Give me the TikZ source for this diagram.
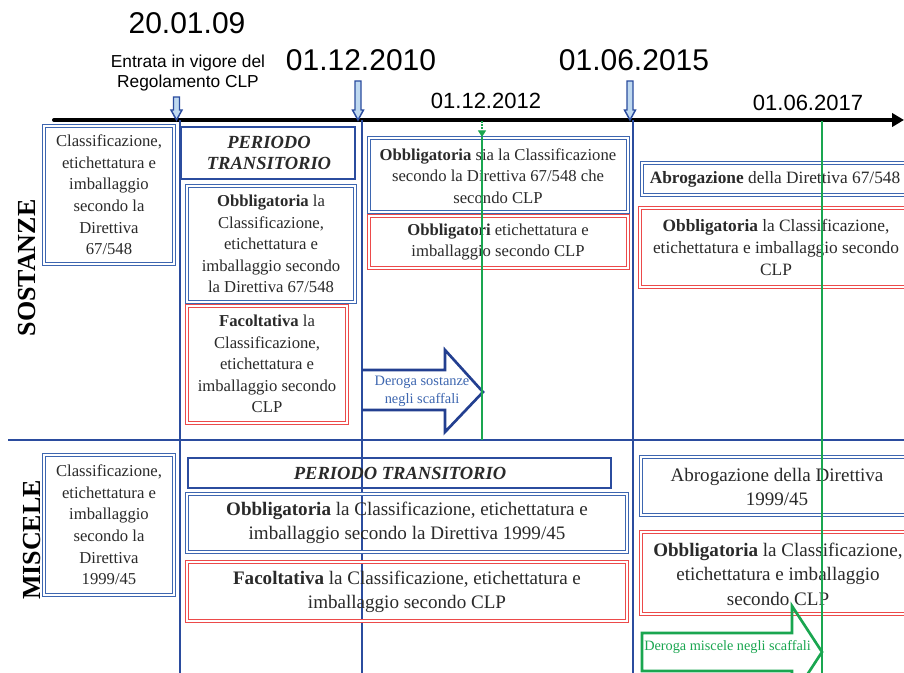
\documentclass[tikz,border=0pt]{standalone}
\usepackage{fontspec}
\setmainfont{Liberation Serif}
\newfontfamily\arialf{Liberation Sans}
\usetikzlibrary{arrows.meta}
\definecolor{lineblue}{HTML}{2B4C9E}
\definecolor{boxblue}{HTML}{3D66B0}
\definecolor{boxred}{HTML}{EC4A4A}
\definecolor{arrowblue}{HTML}{233F90}
\definecolor{paleblue}{HTML}{BFD9F0}
\definecolor{deroggreen}{HTML}{1AA650}
\definecolor{txt}{HTML}{2A2A2A}
\tikzset{
  bluebox/.style={draw=boxblue, double=white, double distance=1.1pt, line width=0.8pt},
  redbox/.style={draw=boxred, double=white, double distance=1.1pt, line width=0.8pt},
  periodbox/.style={draw=lineblue, line width=2.2pt},
  boxtext/.style={align=center, text=txt, inner sep=0pt, font=\fontsize{12.5}{16.2}\selectfont},
  righttext/.style={align=center, text=txt, inner sep=0pt, font=\fontsize{13}{16.5}\selectfont},
  bigtext/.style={align=center, text=txt, inner sep=0pt, font=\fontsize{14.3}{18.3}\selectfont},
  periodtext/.style={align=center, text=txt, inner sep=0pt, font=\bfseries\itshape\fontsize{13.9}{15.8}\selectfont},
  datebig/.style={inner sep=0pt, font=\arialf\fontsize{22.5}{26}\selectfont},
  datesmall/.style={inner sep=0pt, font=\arialf\fontsize{16.5}{19}\selectfont},
  vline/.style={draw=lineblue, line width=1.6pt},
  greenline/.style={draw=deroggreen, line width=1.8pt},
  downarrow/.style={draw=lineblue, fill=paleblue, line width=1.1pt, line join=miter},
  rowlabel/.style={inner sep=0pt, rotate=90, font=\bfseries\fontsize{19.5}{22}\selectfont},
}
\newcommand{\markarrow}[3]{% centre x, top y, tip y
  \draw[downarrow] (#1-3,#2) -- (#1+3,#2) -- (#1+3,#3-10) -- (#1+5.5,#3-10)
    -- (#1,#3) -- (#1-5.5,#3-10) -- (#1-3,#3-10) -- cycle;}
\begin{document}
\begin{tikzpicture}[x=0.75pt, y=-0.75pt]
\useasboundingbox (0,0) rectangle (904,673);
\clip (0,0) rectangle (904,673);
\fill[white] (0,0) rectangle (904,673);

% --- dates and timeline ---
\node[datebig] (d2009) at (187,23) {20.01.09};
\node[inner sep=0pt, align=center, font=\arialf\fontsize{13}{15.6}\selectfont] (entrata) at (188,73)
  {Entrata in vigore del\\Regolamento CLP};
\node[datebig] (d2010) at (361,60) {01.12.2010};
\node[datebig] (d2015) at (634,60) {01.06.2015};
\node[datesmall] (d2012) at (486,101) {01.12.2012};
\node[datesmall] (d2017) at (808,103) {01.06.2017};

\coordinate (tstart) at (54,120);
\coordinate (tend) at (904,120);
\draw[line width=3pt, line cap=round, -{Triangle[length=9pt,width=10pt]}] (tstart) -- (tend);

% --- period separators ---
\coordinate (s1t) at (180,120); \coordinate (s1b) at (180,673);
\coordinate (s2t) at (362,120); \coordinate (s2b) at (362,673);
\coordinate (s3t) at (633,120); \coordinate (s3b) at (633,673);
\draw[vline] (s1t) -- (s1b);
\draw[vline] (s2t) -- (s2b);
\draw[vline] (s3t) -- (s3b);
\coordinate (hl) at (8,440); \coordinate (hr) at (904,440);
\draw[vline] (hl) -- (hr);

\markarrow{176.5}{97}{120}
\markarrow{358}{81}{120}
\markarrow{630}{81}{120}

% --- row labels ---
\node[rowlabel] (sostanze) at (27,268) {SOSTANZE};
\node[rowlabel] (miscele) at (32,540) {MISCELE};

% --- SOSTANZE ---
\draw[bluebox] (44,126) rectangle (174,264);
\node[boxtext] (s0) at (109,195) {Classificazione,\\etichettatura e\\imballaggio\\secondo la\\Direttiva\\67/548};

\draw[periodbox] (181,127) rectangle (355,179);
\node[periodtext] (sp) at (269,153) {PERIODO\\TRANSITORIO};

\draw[bluebox] (187,186) rectangle (355,302);
\node[boxtext] (s1a) at (271,244) {\textbf{Obbligatoria} la\\Classificazione,\\etichettatura e\\imballaggio secondo\\la Direttiva 67/548};

\draw[redbox] (187,306) rectangle (347,423);
\node[boxtext] (s1b) at (267,364) {\textbf{Facoltativa} la\\Classificazione,\\etichettatura e\\imballaggio secondo\\CLP};

\draw[bluebox] (369,138) rectangle (628,212);
\node[boxtext] (s2a) at (498,176) {\textbf{Obbligatoria} sia la Classificazione\\secondo la Direttiva 67/548 che\\secondo CLP};

\draw[redbox] (369,216) rectangle (628,268);
\node[boxtext] (s2b) at (498,242) {\textbf{Obbligatori} etichettatura e\\imballaggio secondo CLP};

\draw[bluebox] (642,163) rectangle (910,195);
\node[righttext] (s3a) at (775,179) {\textbf{Abrogazione} della Direttiva 67/548};

\draw[redbox] (640,208) rectangle (910,287);
\node[righttext] (s3b) at (776,247) {\textbf{Obbligatoria} la Classificazione,\\etichettatura e imballaggio secondo\\CLP};

% derogation arrow for substances
\draw[draw=arrowblue, line width=2pt, line join=miter]
  (362,370) -- (445,370) -- (445,350) -- (483,392) -- (445,432) -- (445,410) -- (362,410);
\node[align=center, inner sep=0pt, text=boxblue, font=\fontsize{10.8}{13.5}\selectfont] (dsost) at (422,391)
  {Deroga sostanze\\negli scaffali};

% --- MISCELE ---
\draw[bluebox] (44,455) rectangle (174,595);
\node[boxtext] (m0) at (109,525) {Classificazione,\\etichettatura e\\imballaggio\\secondo la\\Direttiva\\1999/45};

\draw[periodbox] (188,458) rectangle (611,488);
\node[periodtext] (mp) at (400,473) {PERIODO TRANSITORIO};

\draw[bluebox] (187,494) rectangle (627,552);
\node[bigtext] (m1a) at (407,523) {\textbf{Obbligatoria} la Classificazione, etichettatura e\\imballaggio secondo la Direttiva 1999/45};

\draw[redbox] (187,562) rectangle (627,621);
\node[bigtext] (m1b) at (407,592) {\textbf{Facoltativa} la Classificazione, etichettatura e\\imballaggio secondo CLP};

\draw[bluebox] (641,457) rectangle (910,515);
\node[bigtext] (m3a) at (777,487) {Abrogazione della Direttiva\\1999/45};

\draw[redbox] (641,532) rectangle (910,614);
\node[bigtext] (m3b) at (778,574) {\textbf{Obbligatoria} la Classificazione,\\etichettatura e imballaggio\\secondo CLP};

% --- 2012 and 2017 green markers ---
\coordinate (g1t) at (482,121); \coordinate (g1m) at (482,137); \coordinate (g1b) at (482,440);
\draw[draw=deroggreen, line width=1pt, dash pattern=on 1.2pt off 1.2pt, -{Triangle[length=5pt,width=6pt]}] (g1t) -- (g1m);
\draw[greenline] (g1m) -- (g1b);
\coordinate (g2t) at (822,121); \coordinate (g2b) at (822,673);
\draw[greenline] (g2t) -- (g2b);

% derogation arrow for mixtures
\draw[draw=deroggreen, line width=2pt, line join=miter]
  (642,671) -- (642,633) -- (792,633) -- (792,606) -- (822,652) -- (792,698) -- (792,671) -- cycle;
\node[anchor=west, inner sep=0pt, text=deroggreen, font=\fontsize{10.7}{13}\selectfont] (dmisc) at (644,647)
  {Deroga miscele negli scaffali};
\end{tikzpicture}
\end{document}
